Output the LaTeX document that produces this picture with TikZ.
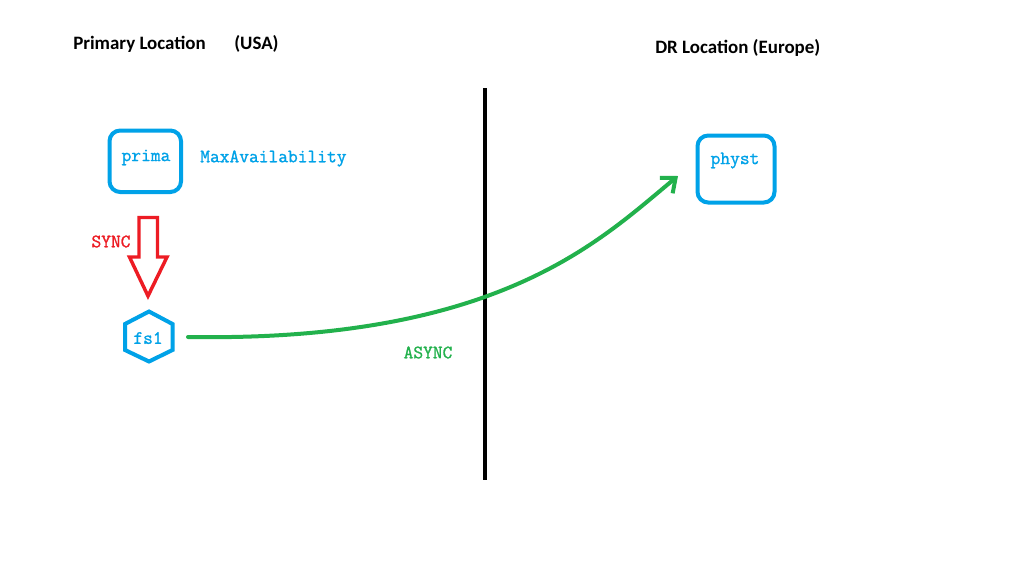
\documentclass[tikz,border=0pt]{standalone}
\usepackage{fontspec}
\setmainfont{Carlito}
\newfontfamily\monob[FakeBold=1.2]{Latin Modern Mono}
\usetikzlibrary{arrows.meta}
\definecolor{pblue}{RGB}{0,162,232}
\definecolor{pred}{RGB}{237,28,36}
\definecolor{pgreen}{RGB}{34,177,76}
\tikzset{
  title/.style={anchor=west,inner sep=0pt,font=\fontsize{14.2pt}{17pt}\selectfont\bfseries,text=black},
  mono/.style={inner sep=0pt,font=\monob\fontsize{14.2pt}{16pt}\selectfont},
  bluebox/.style={draw=pblue,line width=3pt,rounded corners=8pt},
}
\begin{document}
\begin{tikzpicture}[x=0.75pt,y=-0.75pt]
\useasboundingbox[fill=white] (0,0) rectangle (1031,561);
% titles
\node[title] (t1) at (73,44) {Primary Location};
\node[title] (t2) at (234,44) {(USA)};
\node[title] (t3) at (655,48) {DR Location (Europe)};
% divider
\coordinate (dtop) at (485,88);
\coordinate (dbot) at (485,480);
\draw[line width=3pt,black] (dtop) -- (dbot);
% prima
\draw[bluebox] (109.5,130.5) rectangle (181,192);
\node[mono,text=pblue] (prima) at (146,157.5) {prima};
\node[mono,text=pblue,anchor=west] (maxav) at (200,158.5) {MaxAvailability};
% physt
\draw[bluebox] (697.5,135.5) rectangle (774.5,202.5);
\node[mono,text=pblue] (physt) at (735,160.5) {physt};
% fs1 hexagon
\node[mono,text=pblue] (fs1) at (148,338) {fs1};
\draw[draw=pblue,line width=3pt,line join=miter] (149,311.5) -- (172.5,324) -- (172.5,350) -- (149,361.5) -- (125,350) -- (125,324) -- cycle;
% SYNC arrow
\draw[draw=pred,line width=2.6pt,line join=miter] (139,217.5) -- (157.5,217.5) -- (157.5,257) -- (167,257) -- (148,296) -- (129.5,257) -- (139,257) -- cycle;
\node[mono,text=pred] (sync) at (111,241.5) {SYNC};
% ASYNC curve
\coordinate (gs) at (188,337);
\coordinate (ge) at (678,176);
\draw[draw=pgreen,line width=3pt,line cap=round,-{Straight Barb[length=9pt,width=15pt,line width=3pt]}] (gs) .. controls (500,342) and (600,240) .. (ge);
\node[mono,text=pgreen] (async) at (428,352.5) {ASYNC};
\end{tikzpicture}
\end{document}
